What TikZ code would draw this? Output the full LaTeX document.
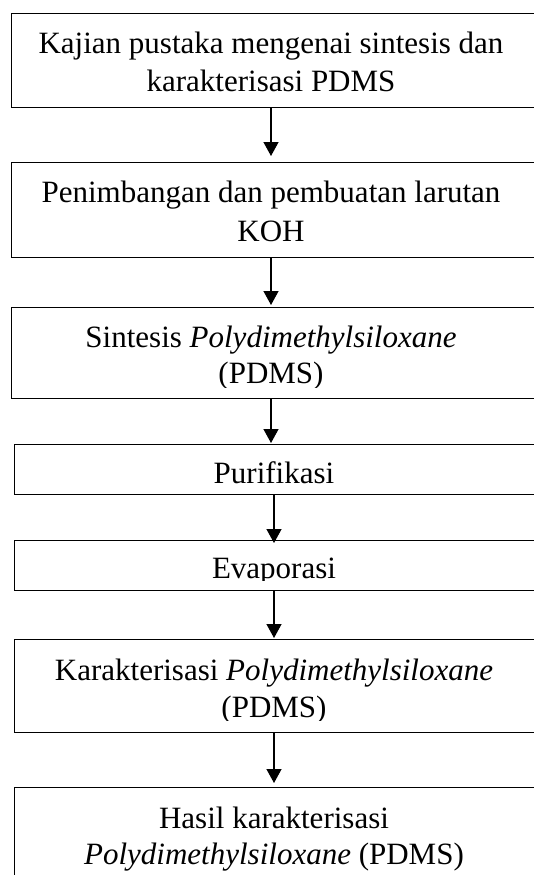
\documentclass[tikz,border=0pt]{standalone}
\usepackage{fontspec}
\setmainfont{Liberation Serif}
\usetikzlibrary{arrows.meta}
\tikzset{
  boxnode/.style={draw, line width=1.3pt, rectangle, inner sep=0pt, anchor=north west, minimum width=620pt},
  txt/.style={anchor=base, inner sep=0pt, font=\fontsize{31}{37}\selectfont},
  arr/.style={line width=1.3pt, -{Triangle[width=15pt,length=14pt]}}
}
\begin{document}
\begin{tikzpicture}[x=1pt,y=-1pt]
\useasboundingbox (0,0) rectangle (534,875);
\fill[white] (0,0) rectangle (534,875);
\begin{scope}
\clip (0,0) rectangle (534,875);
% boxes
\node[boxnode, minimum height=94pt] (b1) at (11,13) {};
\node[boxnode, minimum height=95pt] (b2) at (11,162) {};
\node[boxnode, minimum height=91pt] (b3) at (11,307) {};
\node[boxnode, minimum height=50pt] (b4) at (14,444) {};
\node[boxnode, minimum height=50pt] (b5) at (14,540) {};
\node[boxnode, minimum height=93pt] (b6) at (14,639) {};
\node[boxnode, minimum height=130pt] (b7) at (14,787) {};
% texts
\node[txt] (t1a) at (271,54) {Kajian pustaka mengenai sintesis dan};
\node[txt] (t1b) at (271,92) {karakterisasi PDMS};
\node[txt] (t2a) at (271,202) {Penimbangan dan pembuatan larutan};
\node[txt] (t2b) at (271,241) {KOH};
\node[txt] (t3a) at (271,347) {Sintesis \textit{Polydimethylsiloxane}};
\begin{scope}
\clip (11,307) rectangle (534,387);
\node[txt] (t3b) at (271,383) {(PDMS)};
\end{scope}
\node[txt] (t4a) at (274,483) {Purifikasi};
\begin{scope}
\clip (14,540) rectangle (534,580);
\node[txt] (t5a) at (274,578) {Evaporasi};
\end{scope}
\node[txt] (t6a) at (274,680) {Karakterisasi \textit{Polydimethylsiloxane}};
\begin{scope}
\clip (14,639) rectangle (534,720);
\node[txt] (t6b) at (274,717) {(PDMS)};
\end{scope}
\node[txt] (t7a) at (274,828) {Hasil karakterisasi};
\node[txt] (t7b) at (274,864) {\textit{Polydimethylsiloxane} (PDMS)};
% arrows
\draw[arr, shorten >=6pt] (t1a |- b1.south) -- (t1a |- b2.north);
\draw[arr, shorten >=2pt] (t2a |- b2.south) -- (t2a |- b3.north);
\draw[arr, shorten >=1pt] (t3a |- b3.south) -- (t3a |- b4.north);
\draw[arr, shorten >=-3pt] (t4a |- b4.south) -- (t4a |- b5.north);
\draw[arr, shorten >=1pt] (t6a |- b5.south) -- (t6a |- b6.north);
\draw[arr, shorten >=4pt] (t6a |- b6.south) -- (t6a |- b7.north);
\end{scope}
\end{tikzpicture}
\end{document}
